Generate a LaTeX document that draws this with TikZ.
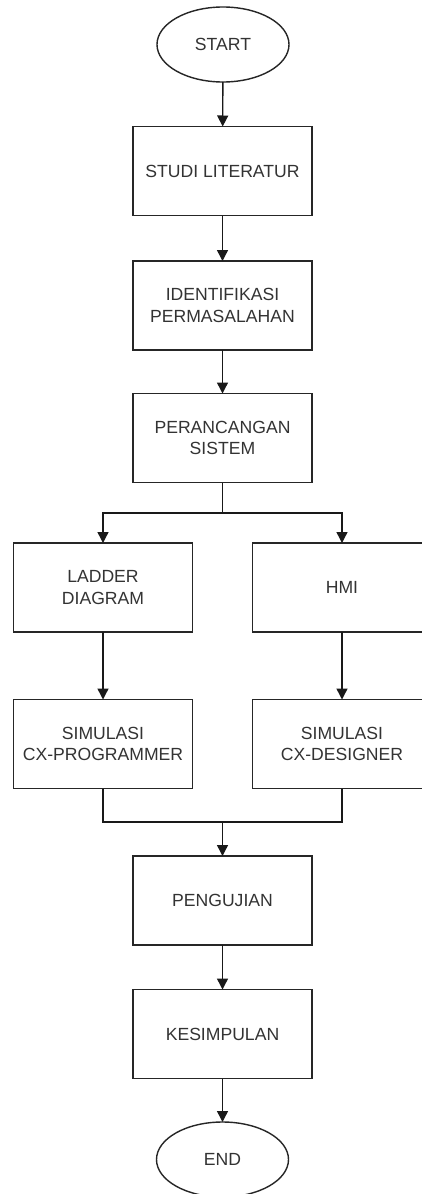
\documentclass[tikz,border=0pt]{standalone}
\usepackage{fontspec}
\setmainfont{Liberation Sans}
\usetikzlibrary{shapes.geometric,arrows.meta}
\begin{document}
\begin{tikzpicture}[x=1pt,y=-1pt,
  every node/.style={text=black!80, font=\fontsize{17.6}{21.6}\selectfont, align=center, inner sep=0pt, outer sep=0pt},
  box/.style={draw=black!85, line width=1.4pt, minimum width=179pt, minimum height=89pt},
  term/.style={ellipse, draw=black!85, line width=1.4pt, minimum width=132pt, minimum height=75pt},
  link/.style={draw=black!90, line width=1.4pt},
  arr/.style={link, -{Triangle[length=11pt,width=11pt]}}
]
\clip (0,0) rectangle (422,1194);
\fill[white] (0,0) rectangle (422,1194);

\node[term] (start) at (223,44.5) {START};
\node[box] (studi) at (222.5,171) {STUDI LITERATUR};
\node[box] (ident) at (222.5,305.5) {IDENTIFIKASI\\PERMASALAHAN};
\node[box] (peran) at (222.5,438) {PERANCANGAN\\SISTEM};
\node[box] (ladder) at (103,587.5) {LADDER\\DIAGRAM};
\node[box] (hmi) at (342,587.5) {HMI};
\node[box] (simA) at (103,744) {SIMULASI\\CX-PROGRAMMER};
\node[box] (simB) at (342,744) {SIMULASI\\CX-DESIGNER};
\node[box] (uji) at (222.5,900.5) {PENGUJIAN};
\node[box] (kes) at (222.5,1034) {KESIMPULAN};
\node[term] (end) at (222.5,1159.5) {END};

\coordinate (split) at (222.5,513);
\coordinate (merge) at (222.5,822);

\draw[arr] (start) -- (studi);
\draw[arr] (studi) -- (ident);
\draw[arr] (ident) -- (peran);
\draw[link] (peran.south) -- (split);
\draw[arr] (split) -| (ladder.north);
\draw[arr] (split) -| (hmi.north);
\draw[arr] (ladder) -- (simA);
\draw[arr] (hmi) -- (simB);
\draw[link] (simA.south) |- (merge);
\draw[link] (simB.south) |- (merge);
\draw[arr] (merge) -- (uji.north);
\draw[arr] (uji) -- (kes);
\draw[arr] (kes) -- (end);
\end{tikzpicture}
\end{document}
